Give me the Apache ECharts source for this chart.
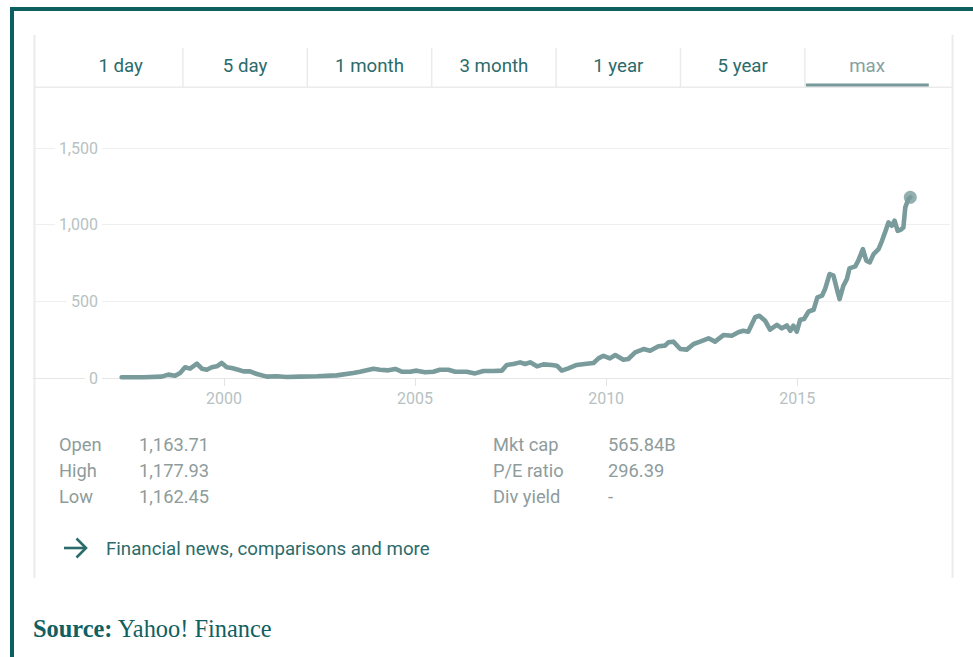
<!DOCTYPE html>
<html>
<head>
<meta charset="utf-8">
<script src="https://cdn.jsdelivr.net/npm/echarts@6/dist/echarts.min.js"></script>
<style>
html,body{margin:0;padding:0;background:#fff;}
#chart{width:973px;height:657px;}
</style>
</head>
<body>
<div id="chart"></div>
<script>
// ---- data ----
const years = [
  1997.32, 1997.89, 1998.37, 1998.54, 1998.72, 1998.85, 1998.98, 1999.11, 1999.29, 1999.42,
  1999.55, 1999.68, 1999.81, 1999.94, 2000.07, 2000.20, 2000.37, 2000.51, 2000.68, 2000.86,
  2001.12, 2001.38, 2001.64, 2001.99, 2002.43, 2002.95, 2003.38, 2003.56, 2003.91, 2004.08,
  2004.30, 2004.48, 2004.65, 2004.87, 2005.04, 2005.26, 2005.48, 2005.65, 2005.87, 2006.05,
  2006.35, 2006.57, 2006.79, 2007.05, 2007.27, 2007.40, 2007.57, 2007.75, 2007.88, 2008.01,
  2008.19, 2008.36, 2008.58, 2008.71, 2008.84, 2009.01, 2009.23, 2009.49, 2009.67, 2009.80,
  2009.93, 2010.10, 2010.24, 2010.45, 2010.58, 2010.76, 2010.98, 2011.15, 2011.37, 2011.54,
  2011.63, 2011.76, 2011.94, 2012.11, 2012.29, 2012.46, 2012.68, 2012.85, 2013.07, 2013.29,
  2013.46, 2013.59, 2013.72, 2013.90, 2014.01, 2014.16, 2014.29, 2014.47, 2014.60, 2014.73,
  2014.82, 2014.90, 2014.99, 2015.08, 2015.18, 2015.30, 2015.43, 2015.53, 2015.65, 2015.73,
  2015.85, 2015.95, 2016.04, 2016.11, 2016.21, 2016.30, 2016.37, 2016.52, 2016.60, 2016.72,
  2016.81, 2016.90, 2017.00, 2017.13, 2017.22, 2017.33, 2017.39, 2017.48, 2017.55, 2017.63,
  2017.71, 2017.78, 2017.83, 2017.91, 2017.96
];
const prices = [
  5, 5, 9, 22, 15, 33, 70, 61, 93, 61,
  54, 70, 76, 98, 70, 65, 54, 43, 43, 26,
  9, 11, 7, 9, 11, 17, 33, 41, 60, 54,
  50, 59, 41, 41, 48, 37, 41, 54, 54, 41,
  41, 30, 46, 46, 48, 85, 91, 102, 91, 102,
  76, 89, 85, 80, 48, 63, 85, 93, 98, 128,
  145, 128, 150, 119, 124, 167, 189, 178, 207, 211,
  233, 237, 189, 185, 222, 237, 259, 237, 280, 276,
  298, 308, 302, 396, 406, 374, 315, 346, 324, 343,
  308, 341, 302, 380, 385, 434, 445, 526, 537, 580,
  678, 667, 580, 515, 602, 645, 715, 728, 765, 841,
  765, 754, 808, 841, 895, 971, 1015, 993, 1026, 960,
  967, 982, 1113, 1167, 1178
];
const xTickYears = [2000, 2005, 2010, 2015];
const yTickValues = [0, 500, 1000, 1500];
const tabs = ['1 day', '5 day', '1 month', '3 month', '1 year', '5 year', 'max'];
const statNamesLeft = ['Open', 'High', 'Low'];
const statValuesLeft = ['1,163.71', '1,177.93', '1,162.45'];
const statNamesRight = ['Mkt cap', 'P/E ratio', 'Div yield'];
const statValuesRight = ['565.84B', '296.39', '-'];
const linkText = 'Financial news, comparisons and more';
const sourceLabel = 'Source:';
const sourceName = 'Yahoo! Finance';

// ---- styles ----
const UI_FONT = 'Roboto, "Noto Sans", sans-serif';
const LINE_COLOR = '#799b9b';
const TEAL = '#2b6b6b';
const FRAME = '#0d6060';
const GRAYTXT = '#8e9c9c';
const AXISTXT = '#b7c2c2';
const BORDER = '#ebebeb';

const seriesData = years.map((y, i) => [y, prices[i]]);
const lastPoint = [years[years.length - 1], prices[prices.length - 1]];

const graphics = [];
// outer teal frame
graphics.push({type: 'rect', shape: {x: 10, y: 7, width: 4, height: 650}, style: {fill: FRAME}, silent: true});
graphics.push({type: 'rect', shape: {x: 10, y: 7, width: 963, height: 4}, style: {fill: FRAME}, silent: true});
// card borders
graphics.push({type: 'rect', shape: {x: 33.5, y: 35, width: 2, height: 543}, style: {fill: BORDER}, silent: true});
graphics.push({type: 'rect', shape: {x: 951.5, y: 35, width: 2, height: 543}, style: {fill: BORDER}, silent: true});
// tab bar bottom line
graphics.push({type: 'rect', shape: {x: 34, y: 86.5, width: 918, height: 1.5}, style: {fill: BORDER}, silent: true});
// tabs
const tabStart = 58.5, tabW = 124.4;
tabs.forEach((t, i) => {
  if (i > 0) {
    graphics.push({type: 'rect', shape: {x: tabStart + tabW * i - 0.75, y: 48, width: 1.5, height: 39}, style: {fill: BORDER}, silent: true});
  }
  const active = i === tabs.length - 1;
  graphics.push({
    type: 'text', x: tabStart + tabW * (i + 0.5), y: 66,
    style: {text: t, fill: active ? '#86a0a0' : TEAL, font: '18.7px ' + UI_FONT, align: 'center', verticalAlign: 'middle'},
    silent: true
  });
});
graphics.push({type: 'rect', shape: {x: tabStart + tabW * 6 + 1, y: 83.5, width: tabW - 1.5, height: 3}, style: {fill: '#779999'}, silent: true});

// stats
const statRows = [444.5, 470.5, 496];
const STAT_FONT = '18.3px ' + UI_FONT;
statNamesLeft.forEach((n, i) => {
  graphics.push({type: 'text', x: 59, y: statRows[i], style: {text: n, fill: GRAYTXT, font: STAT_FONT, verticalAlign: 'middle'}, silent: true});
  graphics.push({type: 'text', x: 139, y: statRows[i], style: {text: statValuesLeft[i], fill: GRAYTXT, font: STAT_FONT, verticalAlign: 'middle'}, silent: true});
});
statNamesRight.forEach((n, i) => {
  graphics.push({type: 'text', x: 493, y: statRows[i], style: {text: n, fill: GRAYTXT, font: STAT_FONT, verticalAlign: 'middle'}, silent: true});
  graphics.push({type: 'text', x: 608, y: statRows[i], style: {text: statValuesRight[i], fill: GRAYTXT, font: STAT_FONT, verticalAlign: 'middle'}, silent: true});
});

// arrow + link
graphics.push({type: 'polyline', shape: {points: [[64, 548], [86, 548]]}, style: {stroke: TEAL, lineWidth: 2.6, fill: null}, silent: true});
graphics.push({type: 'polyline', shape: {points: [[76.5, 538.5], [86, 548], [76.5, 557.5]]}, style: {stroke: TEAL, lineWidth: 2.6, fill: null}, silent: true});
graphics.push({type: 'text', x: 106, y: 548.5, style: {text: linkText, fill: TEAL, font: '18.7px ' + UI_FONT, verticalAlign: 'middle'}, silent: true});

// source
graphics.push({
  type: 'text', x: 33, y: 628,
  style: {
    text: '{b|' + sourceLabel + '} ' + sourceName,
    fill: '#0f6060', font: '24.4px "Liberation Serif", "Times New Roman", serif', verticalAlign: 'middle',
    rich: {b: {fontWeight: 'bold', fontSize: 24.4, fontFamily: '"Liberation Serif", "Times New Roman", serif', fill: '#0f6060'}}
  },
  silent: true
});

const chart = echarts.init(document.getElementById('chart'), null, {renderer: 'svg'});
chart.setOption({
  backgroundColor: '#fff',
  animation: false,
  grid: {left: 33, right: 23, top: 148, bottom: 279, containLabel: false},
  xAxis: {
    type: 'value', min: 1995, max: 2019,
    axisLine: {show: true, lineStyle: {color: '#e6e6e6', width: 1}},
    axisTick: {show: true, customValues: xTickYears, length: 8, lineStyle: {color: '#e3e3e3'}},
    axisLabel: {customValues: xTickYears, color: AXISTXT, fontSize: 16, fontFamily: UI_FONT, margin: 12, formatter: v => String(v)},
    splitLine: {show: false}
  },
  yAxis: {
    type: 'value', min: 0, max: 1500, interval: 500,
    axisLine: {show: false},
    axisTick: {show: false},
    axisLabel: {
      inside: true, align: 'right', margin: 69, color: AXISTXT, fontSize: 16, fontFamily: UI_FONT,
      backgroundColor: '#fff', padding: [1, 4, 1, 4],
      formatter: v => yTickValues.indexOf(v) >= 0 ? v.toLocaleString('en-US') : ''
    },
    splitLine: {show: true, lineStyle: {color: '#efefef', width: 1}}
  },
  series: [
    {
      type: 'line', data: seriesData, showSymbol: false, symbol: 'none',
      lineStyle: {color: LINE_COLOR, width: 4.6, join: 'round', cap: 'round'},
      z: 3
    },
    {
      type: 'scatter', data: [lastPoint], symbol: 'circle', symbolSize: 13,
      itemStyle: {color: LINE_COLOR}, z: 4
    }
  ],
  graphic: graphics
});
</script>
</body>
</html>
